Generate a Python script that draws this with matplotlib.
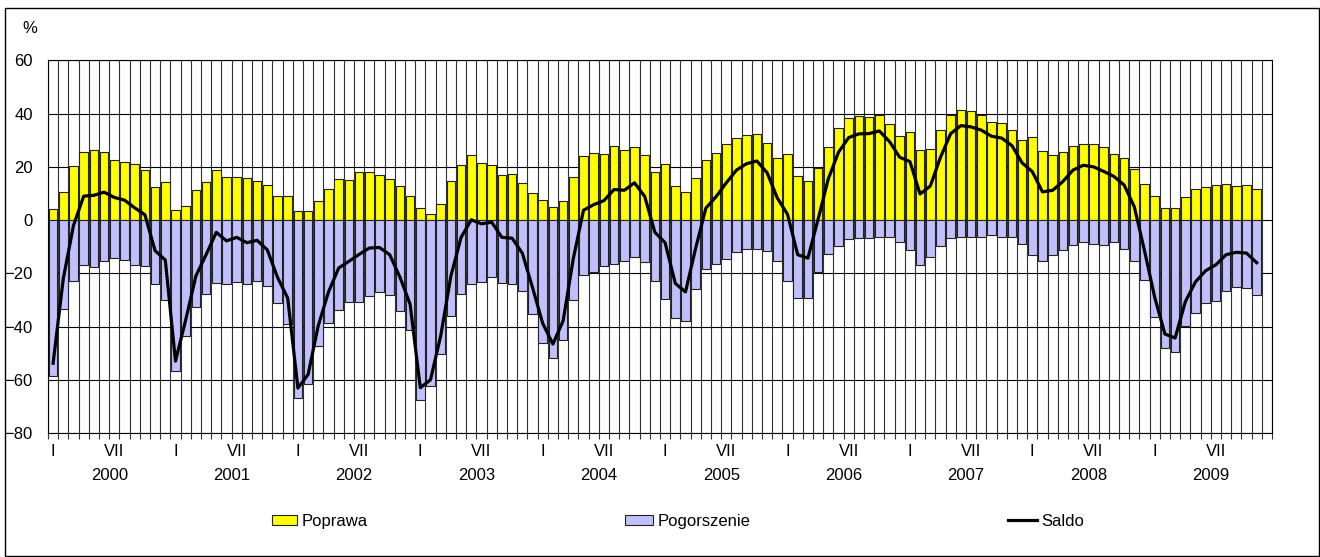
import matplotlib
matplotlib.use('Agg')
import matplotlib.pyplot as plt
from matplotlib.patches import Patch, Rectangle
from matplotlib.lines import Line2D
import numpy as np

plt.rcParams['font.family'] = ['Liberation Sans', 'DejaVu Sans']
plt.rcParams['font.size'] = 12

years = [2000, 2001, 2002, 2003, 2004, 2005, 2006, 2007, 2008, 2009]
month_labels = ['I', 'VII']

poprawa = [
    4.1, 10.6, 20.4, 25.5, 26.2, 25.5, 22.7, 22.0, 21.1, 18.8, 12.4, 14.4,
    3.7, 5.3, 11.3, 14.4, 18.8, 16.3, 16.3, 15.9, 14.8, 13.2, 9.2, 9.2,
    3.4, 3.4, 7.0, 11.7, 15.5, 15.2, 17.9, 17.9, 16.8, 15.5, 12.8, 9.2,
    4.5, 2.1, 6.1, 14.8, 20.7, 24.3, 21.5, 20.7, 16.8, 17.3, 14.0, 10.1,
    7.6, 4.8, 7.2, 16.3, 24.0, 25.1, 24.7, 28.0, 26.2, 27.6, 24.3, 18.0,
    20.9, 12.8, 10.4, 15.9, 22.4, 25.1, 28.6, 30.7, 31.8, 32.5, 28.9, 23.5,
    24.7, 16.4, 14.8, 19.5, 27.5, 34.7, 38.3, 39.0, 38.9, 39.6, 36.1, 31.6,
    33.0, 26.3, 26.7, 33.9, 39.4, 41.5, 40.9, 39.6, 37.0, 36.5, 33.8, 30.1,
    31.1, 25.8, 24.3, 25.5, 28.0, 28.6, 28.6, 27.5, 24.7, 23.5, 19.3, 13.5,
    9.2, 4.5, 4.5, 8.8, 11.7, 12.4, 13.2, 13.7, 12.8, 13.2, 11.7,
]

pogorszenie = [
    -58.6, -33.5, -22.7, -16.8, -17.5, -15.3, -14.3, -14.9, -16.9, -17.1, -24.0, -30.1,
    -56.8, -43.7, -32.7, -27.8, -23.6, -24.2, -23.2, -24.2, -22.7, -24.7, -31.3, -38.9,
    -66.8, -61.5, -47.2, -38.8, -33.8, -30.9, -30.6, -28.7, -27.1, -28.2, -34.2, -41.2,
    -67.7, -62.5, -50.3, -36.1, -27.7, -24.2, -23.2, -21.5, -23.7, -24.0, -26.5, -35.4,
    -46.3, -51.8, -45.1, -30.2, -20.5, -19.5, -17.4, -16.5, -15.3, -13.9, -15.9, -22.7,
    -29.6, -36.9, -37.9, -25.8, -18.4, -16.5, -14.8, -12.0, -10.8, -10.8, -11.6, -15.5,
    -22.7, -29.4, -29.4, -19.5, -12.8, -9.7, -7.2, -6.6, -6.6, -6.2, -6.2, -8.2,
    -11.2, -16.8, -13.9, -9.7, -6.6, -6.2, -6.2, -6.2, -5.7, -6.2, -6.2, -8.8,
    -13.2, -15.5, -13.2, -11.3, -9.3, -8.2, -8.8, -9.3, -8.4, -10.8, -15.2, -22.6,
    -36.5, -48.0, -49.4, -39.8, -34.9, -31.3, -30.3, -26.7, -25.1, -25.5, -28.1,
]

saldo = [
    -53.8, -22.0, -2.0, 9.0, 9.3, 10.5, 8.5, 7.5, 4.6, 2.0, -11.5, -15.0,
    -53.0, -37.5, -21.0, -13.0, -4.6, -7.8, -6.5, -8.5, -7.6, -11.2, -21.5, -29.3,
    -63.1, -58.0, -39.6, -27.0, -18.0, -15.5, -12.9, -10.5, -10.3, -13.0, -21.4, -31.6,
    -63.0, -60.0, -43.5, -21.0, -6.5, 0.1, -1.4, -0.8, -6.5, -6.8, -12.4, -25.3,
    -38.8, -46.6, -37.9, -14.5, 3.7, 5.8, 7.3, 11.5, 11.2, 14.0, 8.9, -4.6,
    -8.5, -23.8, -27.0, -10.5, 4.5, 8.8, 14.0, 18.8, 21.2, 22.2, 17.8, 8.3,
    2.2, -13.0, -14.3, 0.3, 15.5, 25.5, 31.0, 32.4, 32.5, 33.5, 29.5, 23.6,
    22.0, 9.8, 12.8, 23.6, 32.5, 35.5, 35.0, 33.8, 31.5, 30.8, 28.0, 21.5,
    18.2, 10.6, 11.2, 14.5, 18.8, 20.6, 20.0, 18.3, 16.4, 13.2, 5.0, -11.5,
    -29.0, -42.8, -44.3, -30.7, -23.2, -19.0, -16.8, -13.0, -12.1, -12.4, -16.0,
]

n_cat = 12 * len(years)
x = np.arange(len(poprawa))

W, H = 1320, 557
fig = plt.figure(figsize=(W / 100, H / 100), dpi=100)
ax_left, ax_right, ax_top, ax_bot = 48, 1272, 60.4, 433
ax = fig.add_axes([ax_left / W, 1 - ax_bot / H, (ax_right - ax_left) / W, (ax_bot - ax_top) / H])

ax.bar(x, poprawa, width=0.84, color='#FFFF00', edgecolor='#222222', linewidth=0.8, zorder=2)
ax.bar(x, pogorszenie, width=0.84, color='#C0C0FF', edgecolor='#222222', linewidth=0.8, zorder=2)
ax.plot(x, saldo, color='black', lw=2.3, zorder=3, solid_joinstyle='round')

ax.set_xlim(-0.5, n_cat - 0.5)
ax.set_ylim(-80, 60)
ax.set_yticks(range(-80, 61, 20))
ax.set_axisbelow(True)
ax.yaxis.grid(True, color='black', lw=0.8)

ax.set_xticks(np.arange(-0.5, n_cat, 1), minor=True)
ax.xaxis.grid(True, which='minor', color='#333333', lw=0.8)
ax.xaxis.grid(False, which='major')
pos, labs = [], []
for i in range(len(years)):
    for j, m in zip([0, 6], month_labels):
        pos.append(12 * i + j)
        labs.append(m)
ax.set_xticks(pos)
ax.set_xticklabels(labs)
ax.tick_params(axis='x', which='major', length=0, pad=8)
ax.tick_params(axis='x', which='minor', length=4, width=0.8, direction='out', color='#333333')
ax.tick_params(axis='y', length=0, pad=11)

for s in ax.spines.values():
    s.set_color('black')
    s.set_linewidth(0.8)

for i, yr in enumerate(years):
    ax.text(12 * i + 5.5, -(475 - ax_bot) / (ax_bot - ax_top), str(yr),
            transform=ax.get_xaxis_transform(), ha='center', va='center')

fig.text(30 / W, 1 - 28.5 / H, '%', ha='center', va='center')

fig.patches.append(Rectangle((5 / W, 1 - 556 / H), (1319 - 5) / W, (556 - 8) / H,
                             transform=fig.transFigure, fill=False, edgecolor='black', lw=1))

leg_y = 1 - 521.5 / H
common = dict(loc='center left', frameon=False, borderpad=0, borderaxespad=0,
              handletextpad=0.25, fontsize=12)
fig.legend(handles=[Patch(facecolor='#FFFF00', edgecolor='#222222', lw=0.8)], labels=['Poprawa'],
           bbox_to_anchor=(272 / W, leg_y), handlelength=1.5, handleheight=0.55, **common)
fig.legend(handles=[Patch(facecolor='#C0C0FF', edgecolor='#222222', lw=0.8)], labels=['Pogorszenie'],
           bbox_to_anchor=(625 / W, leg_y), handlelength=1.7, handleheight=0.55, **common)
fig.legend(handles=[Line2D([], [], color='black', lw=2.3)], labels=['Saldo'],
           bbox_to_anchor=(1008 / W, leg_y), handlelength=1.75, **common)

fig.savefig('out.png', dpi=100)
